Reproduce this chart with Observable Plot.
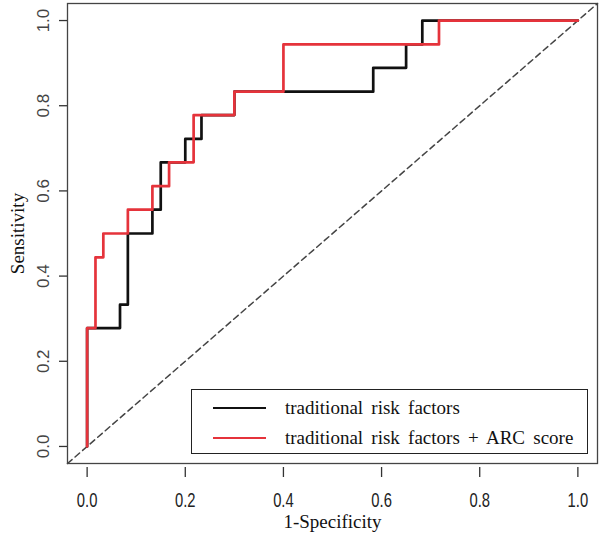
<!DOCTYPE html>
<html>
<head>
<meta charset="utf-8">
<script src="https://cdn.jsdelivr.net/npm/d3@7"></script>
<script src="https://cdn.jsdelivr.net/npm/@observablehq/plot@0.6"></script>
<style>
  html, body { margin: 0; padding: 0; background: #fff; }
  #wrap { position: relative; width: 600px; height: 541px; }
  #legend {
    position: absolute; left: 191px; top: 389px; width: 397px; height: 65px;
    border: 1.3px solid #222; background: #fff; box-sizing: border-box;
    font-family: "Liberation Serif", "Times New Roman", serif; font-size: 19px; color: #111;
  }
  .row { position: absolute; left: 0; display: flex; align-items: center; }
  .sw { display: inline-block; width: 53px; height: 2px; margin-left: 21px; margin-right: 19px; }
</style>
</head>
<body>
<div id="wrap"></div>
<script>
// ROC coordinates (1-specificity, sensitivity)
const fprTrad = [0, 0, 0.067, 0.083, 0.133, 0.150, 0.200, 0.233, 0.300, 0.583, 0.650, 0.683, 1];
const tprTrad = [0, 0.278, 0.333, 0.500, 0.556, 0.667, 0.722, 0.778, 0.833, 0.889, 0.944, 1, 1];
const fprArc = [0, 0, 0.017, 0.033, 0.083, 0.133, 0.167, 0.217, 0.300, 0.400, 0.717, 1];
const tprArc = [0, 0.278, 0.444, 0.500, 0.556, 0.611, 0.667, 0.778, 0.833, 0.944, 1, 1];
const seriesNames = ["traditional risk factors", "traditional risk factors + ARC score"];
const seriesColors = ["#111111", "#e5333b"];
const xTicks = [0, 0.2, 0.4, 0.6, 0.8, 1.0];
const yTicks = [0, 0.2, 0.4, 0.6, 0.8, 1.0];
const diagonal = [-0.04, 1.04];
const xLabel = "1-Specificity";
const yLabel = "Sensitivity";

const trad = fprTrad.map((x, i) => ({x, y: tprTrad[i]}));
const arc = fprArc.map((x, i) => ({x, y: tprArc[i]}));
const fmt = d3.format(".1f");

const chart = Plot.plot({
  width: 600,
  height: 541,
  marginLeft: 67,
  marginRight: 3,
  marginTop: 3,
  marginBottom: 78,
  x: {domain: [-0.04, 1.04]},
  y: {domain: [-0.04, 1.04]},
  style: {background: "#fff"},
  marks: [
    Plot.line(diagonal, {x: d => d, y: d => d, stroke: "#444", strokeWidth: 1.5, strokeDasharray: "6,4"}),
    Plot.line(trad, {x: "x", y: "y", curve: "step-after", stroke: seriesColors[0], strokeWidth: 2.7}),
    Plot.line(arc, {x: "x", y: "y", curve: "step-after", stroke: seriesColors[1], strokeWidth: 2.7}),
    Plot.frame({stroke: "#444", strokeWidth: 1.3}),
    Plot.axisX(xTicks, {anchor: "bottom", tickSize: 10, dy: 4, tickFormat: () => "", label: null, stroke: "#333", strokeWidth: 1.3}),
    Plot.text(xTicks, {x: d => d, text: d => fmt(d), frameAnchor: "bottom", lineAnchor: "middle", textAnchor: "middle", dy: 37,
      fontSize: 20, fontFamily: "'Liberation Sans', Arial, sans-serif", fill: "#222", className: "xlab"}),
    Plot.axisY(yTicks, {anchor: "left", tickSize: 8, tickFormat: () => "", label: null, stroke: "#333", strokeWidth: 1.3}),
    Plot.text(yTicks, {y: d => d, text: d => fmt(d), frameAnchor: "left", textAnchor: "middle", lineAnchor: "middle", dx: -24, rotate: -90,
      fontSize: 17, fontFamily: "'Liberation Sans', Arial, sans-serif", fill: "#444"}),
    Plot.text([yLabel], {text: d => d, frameAnchor: "left", textAnchor: "middle", lineAnchor: "middle", dx: -50, rotate: -90,
      fontSize: 19, fontFamily: "'Liberation Serif', 'Times New Roman', serif", fill: "#111"}),
    Plot.text([xLabel], {text: d => d, frameAnchor: "bottom", textAnchor: "middle", lineAnchor: "middle", dy: 58,
      fontSize: 19, fontFamily: "'Liberation Serif', 'Times New Roman', serif", fill: "#111"})
  ]
});
const wrap = document.getElementById("wrap");
wrap.appendChild(chart);

// condensed look for the x tick labels
d3.select(chart).selectAll("g.xlab text").each(function() {
  const t = d3.select(this);
  const tr = t.attr("transform") || "";
  t.attr("transform", tr + " scale(0.74,1)");
});

const legend = document.createElement("div");
legend.id = "legend";
seriesNames.forEach((name, i) => {
  const row = document.createElement("div");
  row.className = "row";
  row.style.top = (i === 0 ? 7 : 37) + "px";
  const sw = document.createElement("span");
  sw.className = "sw";
  sw.style.background = seriesColors[i];
  const t = document.createElement("span");
  t.textContent = name;
  t.style.wordSpacing = "3.5px";
  row.appendChild(sw);
  row.appendChild(t);
  legend.appendChild(row);
});
wrap.appendChild(legend);
</script>
</body>
</html>
